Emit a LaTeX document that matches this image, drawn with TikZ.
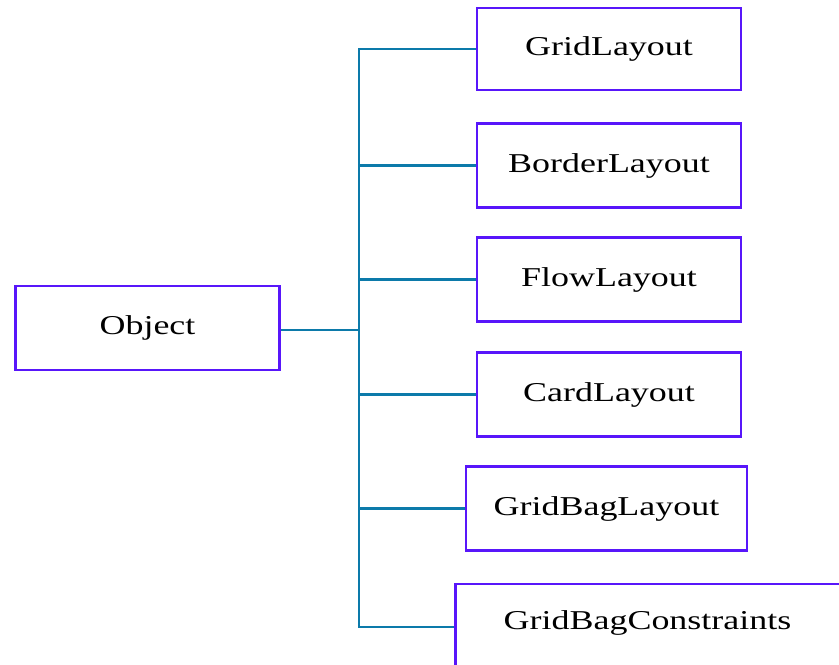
\documentclass[tikz,border=0pt]{standalone}
\usepackage{fontspec}
\setmainfont{Liberation Serif}[FakeStretch=1.32]
\definecolor{boxline}{RGB}{88,22,250}
\definecolor{wire}{RGB}{12,122,170}
\begin{document}
\begin{tikzpicture}[x=0.02cm,y=-0.02cm,
                    class node/.style={rectangle,draw=boxline,line width=1.4pt,fill=white,
                      minimum width=5.28cm,minimum height=1.68cm,inner sep=0pt,
                      font=\fontsize{15.5}{18}\selectfont},
                    link/.style={draw=wire,line width=1.2pt}
                   ]
  \useasboundingbox (0,0) rectangle (839,665);
  \clip (0,0) rectangle (839,665);

  \node[class node] (object) at (147.5,328) {Object};
  \node[class node,minimum height=1.64cm] (grid) at (609,49) {GridLayout};
  \node[class node] (border) at (609,165.5) {BorderLayout};
  \node[class node] (flow) at (609,279.5) {FlowLayout};
  \node[class node] (card) at (609,394.5) {CardLayout};
  \node[class node,minimum width=5.62cm] (gridbag) at (606.5,508.5) {GridBagLayout};
  \node[class node,minimum width=7.9cm,minimum height=1.72cm] (constraints) at (653,627) {};
  \node[font=\fontsize{15.5}{18}\selectfont] (constraintstext) at (647.5,623) {GridBagConstraints};

  % tree connectors
  \coordinate (j) at (359,330);
  \draw[link] (object.east |- j) -- (j);
  \foreach \n in {grid,border,flow,card,gridbag,constraints}
    \draw[link] (j) |- (\n.west);
\end{tikzpicture}
\end{document}
